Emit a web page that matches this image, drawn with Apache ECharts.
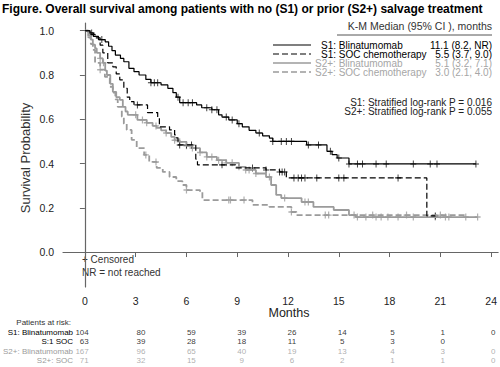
<!DOCTYPE html>
<html><head><meta charset="utf-8">
<script src="https://cdn.jsdelivr.net/npm/echarts@6/dist/echarts.min.js"></script>
<style>html,body{margin:0;padding:0;background:#fff}#c{width:500px;height:367px}</style>
</head><body><div id="c"></div>
<script>
// ---- tick labels ----
const xTicks = [0, 3, 6, 9, 12, 15, 18, 21, 24];
const yTicks = [0, 0.2, 0.4, 0.6, 0.8, 1.0];

// ---- KM curves: event times (months) and survival after each drop ----
const s1BlinT = [0,0.3,0.5,0.8,1.2,1.4,1.6,1.8,2.1,2.3,2.6,2.9,3.2,3.6,3.9,4.5,4.9,5.2,5.4,5.6,6.6,6.9,7.5,7.9,8.1,8.5,9.0,9.3,9.7,10.1,10.5,10.9,11.1,13.1,14.3,14.6,14.9,15.6];
const s1BlinS = [1,0.99,0.975,0.96,0.95,0.93,0.91,0.89,0.875,0.86,0.83,0.815,0.80,0.78,0.765,0.755,0.74,0.72,0.70,0.675,0.665,0.652,0.643,0.62,0.61,0.597,0.58,0.566,0.55,0.538,0.525,0.515,0.50,0.484,0.455,0.44,0.425,0.398];
const s1BlinEnd = 23.1;
const s1BlinCens = [0.4,1.0,3.9,4.1,4.3,5.5,5.8,6.1,6.35,7.2,7.5,7.8,8.35,8.7,9.1,10.3,11.1,11.6,11.9,12.2,13.2,13.8,14.5,15.0,15.6,16.1,16.4,17.2,17.8,19.4,20.4,20.8,23.1];

const s1SocT = [0,0.3,0.6,0.9,1.06,1.35,1.65,1.85,2.06,2.3,2.5,2.65,2.9,3.7,4.3,4.4,5.0,5.3,5.4,5.5,6.55,6.65,8.9,10.7,11.5,11.9,20.2];
const s1SocS = [1,0.984,0.968,0.935,0.90,0.855,0.837,0.805,0.778,0.74,0.70,0.68,0.665,0.63,0.606,0.566,0.552,0.529,0.516,0.484,0.42,0.394,0.38,0.371,0.362,0.335,0.163];
const s1SocEnd = 20.7;
const s1SocCens = [3.1,5.6,6.0,6.3,8.1,9.9,10.7,11.5,11.65,11.8,12.35,12.6,12.8,13.0,13.7,15.0,15.3,18.5,20.7];

const s2BlinT = [0,0.2,0.35,0.47,0.6,0.7,0.9,1.06,1.2,1.3,1.5,1.65,1.85,2.06,2.24,2.4,2.53,3.1,3.65,4.0,4.24,4.5,4.8,5.1,5.3,5.6,6.0,6.35,6.8,7.2,7.8,8.35,9.1,9.5,10.1,10.7,11.0,11.3,11.6,12.8,13.5,14.7,15.6,16.0];
const s2BlinS = [1,0.98,0.96,0.937,0.92,0.90,0.875,0.855,0.82,0.80,0.76,0.724,0.70,0.688,0.656,0.635,0.62,0.597,0.584,0.57,0.561,0.55,0.538,0.52,0.505,0.498,0.48,0.47,0.45,0.43,0.415,0.403,0.385,0.371,0.355,0.339,0.303,0.258,0.244,0.226,0.204,0.19,0.167,0.158];
const s2BlinEnd = 23.2;
const s2BlinCens = [0.3,0.9,1.1,3.0,3.4,3.65,4.2,4.8,5.3,5.6,6.0,6.35,6.8,7.2,7.5,7.9,8.35,8.7,9.1,9.5,9.7,10.1,10.9,11.8,13.0,13.2,15.9,16.1,16.6,17.2,17.5,17.9,18.5,19.4,20.7,21.3,21.5,22.5,23.2];

const s2SocT = [0,0.2,0.35,0.47,0.6,0.9,1.18,1.47,1.65,1.8,1.94,2.18,2.3,2.47,2.76,3.06,3.5,3.8,4.24,4.6,5.0,5.4,5.76,6.0,6.8,6.94,9.9,10.9,12.2,12.5];
const s2SocS = [1,0.97,0.94,0.914,0.855,0.824,0.792,0.747,0.72,0.69,0.656,0.611,0.58,0.552,0.507,0.47,0.439,0.407,0.38,0.362,0.339,0.32,0.303,0.28,0.271,0.235,0.213,0.204,0.181,0.167];
const s2SocEnd = 22.5;
const s2SocCens = [0.9,3.6,4.2,6.0,8.5,8.6,9.4,12.2,14.2,14.4,17.0,19.0,21.0];

// ---- legend texts ----
const legendNames = ['S1: Blinatumomab', 'S1: SOC chemotherapy', 'S2+: Blinatumomab', 'S2+: SOC chemotherapy'];
const legendMedians = ['11.1 (8.2, NR)', '5.5 (3.7, 9.0)', '5.1 (3.2, 7.1)', '3.0 (2.1, 4.0)'];
const pTexts = ['S1: Stratified log-rank P = 0.016', 'S2+: Stratified log-rank P = 0.055'];

// ---- patients at risk ----
const riskRows = ['S1: Blinatumomab', 'S:1 SOC', 'S2+: Blinatumomab', 'S2+: SOC'];
const riskS1Blin = [104, 80, 59, 39, 26, 14, 5, 1, 0];
const riskS1Soc  = [63, 39, 28, 18, 11, 5, 3, 0, null];
const riskS2Blin = [167, 96, 65, 40, 19, 13, 4, 3, 0];
const riskS2Soc  = [71, 32, 15, 9, 6, 2, 1, 1, 0];

// ---------------------------------------------------------------
const BLACK = '#000', GRAY = '#9b9b9b', GRAYTXT = '#a6a6a6', AXIS = '#666';
const FONT = '"Liberation Sans", Arial, sans-serif';

function steps(T, S, end) { const d = T.map((t, i) => [t, S[i]]); d.push([end, S[S.length - 1]]); return d; }
function survAt(T, S, t) { let s = S[0]; for (let i = 0; i < T.length; i++) if (T[i] <= t) s = S[i]; return s; }

const curves = [
  { T: s2SocT, S: s2SocS, end: s2SocEnd, cens: s2SocCens, color: GRAY, width: 1.8, dash: [6, 3] },
  { T: s2BlinT, S: s2BlinS, end: s2BlinEnd, cens: s2BlinCens, color: GRAY, width: 1.8, dash: 'solid' },
  { T: s1SocT, S: s1SocS, end: s1SocEnd, cens: s1SocCens, color: BLACK, width: 1.2, dash: [6, 3] },
  { T: s1BlinT, S: s1BlinS, end: s1BlinEnd, cens: s1BlinCens, color: BLACK, width: 1.2, dash: 'solid' }
];
const PLUS = 'path://M0,5L10,5M5,0L5,10';

const series = [];
curves.forEach(c => {
  series.push({ type: 'line', step: 'end', xAxisIndex: 0, yAxisIndex: 0, showSymbol: false, silent: true,
    data: steps(c.T, c.S, c.end), lineStyle: { color: c.color, width: c.width, type: c.dash } });
  series.push({ type: 'scatter', xAxisIndex: 0, yAxisIndex: 0, silent: true, symbol: PLUS, symbolSize: [6, 7],
    data: c.cens.map(t => [t, survAt(c.T, c.S, t)]),
    itemStyle: { color: 'none', borderColor: c.color, borderWidth: c.width > 1.5 ? 1.3 : 1 } });
});

const riskData = [riskS1Blin, riskS1Soc, riskS2Blin, riskS2Soc];
const riskColors = [BLACK, BLACK, GRAY, GRAY];
riskData.forEach((arr, r) => {
  const data = [];
  arr.forEach((v, i) => {
    if (v === null) return;
    const item = { value: [xTicks[i], riskRows[r], v] };
    if (i === 0) item.label = { align: 'right', offset: [-2, 0] };
    data.push(item);
  });
  series.push({ type: 'scatter', xAxisIndex: 1, yAxisIndex: 1, silent: true, symbolSize: 1,
    itemStyle: { color: 'rgba(0,0,0,0)' }, data,
    label: { show: true, position: 'inside', formatter: p => p.value[2], color: riskColors[r],
      fontSize: 8, fontFamily: FONT, align: 'center', verticalAlign: 'middle' } });
});

const graphic = [];
const T = (x, y, text, o) => graphic.push(Object.assign({ type: 'text', x, y, silent: true,
  style: Object.assign({ text, fontFamily: FONT, fontSize: 10, fill: '#222', verticalAlign: 'middle' }, o || {}) }));
T(2, 9, 'Figure. Overall survival among patients with no (S1) or prior (S2+) salvage treatment',
  { fontSize: 12, fontWeight: 'bold', fill: '#000' });
T(492, 26, 'K-M Median (95% CI ), months', { align: 'right', fill: '#333', fontSize: 10.5 });
graphic.push({ type: 'line', silent: true, shape: { x1: 337, y1: 35, x2: 492, y2: 35 }, style: { stroke: '#555', lineWidth: 1 } });
const legY = [45, 54, 63, 72];
const legX = [321, 321, 315, 315];
const legCol = [BLACK, BLACK, GRAY, GRAY];
const legTxt = ['#000', '#000', GRAYTXT, GRAYTXT];
const legDash = [null, [6, 3], null, [6, 3]];
legY.forEach((y, i) => {
  graphic.push({ type: 'line', silent: true, shape: { x1: 273, y1: y, x2: 311, y2: y },
    style: { stroke: legCol[i], lineWidth: i < 2 ? 1.2 : 1.6, lineDash: legDash[i] } });
  T(legX[i], y, legendNames[i], { align: 'left', fill: legTxt[i] });
  T(492, y, legendMedians[i], { align: 'right', fill: legTxt[i] });
});
T(492, 102, pTexts[0], { align: 'right', fill: '#222' });
T(492, 111, pTexts[1], { align: 'right', fill: '#222' });
T(82, 259, '+ Censored', { fill: '#333' });
T(82, 272, 'NR = not reached', { fill: '#333' });
T(289, 313, 'Months', { align: 'center', fontSize: 12.5, fill: '#222' });
T(71, 322, 'Patients at risk:', { align: 'right', fontSize: 8, fill: '#333' });
graphic.push({ type: 'text', x: 25, y: 158, rotation: Math.PI / 2, silent: true,
  style: { text: 'Survival Probability', fontFamily: FONT, fontSize: 13, fill: '#333', align: 'center', verticalAlign: 'middle' } });

const option = {
  animation: false,
  backgroundColor: '#fff',
  textStyle: { fontFamily: FONT },
  grid: [
    { left: 63, right: 0, top: 23, bottom: 80 },
    { left: 63, right: 0, top: 328, height: 37 }
  ],
  xAxis: [
    { type: 'value', gridIndex: 0, min: -1.294, max: 24.41, position: 'bottom',
      axisLine: { show: true, lineStyle: { color: AXIS, width: 1.2 } },
      axisTick: { show: true, customValues: xTicks, length: 5, lineStyle: { color: AXIS } },
      axisLabel: { customValues: xTicks, fontSize: 10.5, color: '#222', margin: 8, fontFamily: FONT },
      splitLine: { show: false } },
    { type: 'value', gridIndex: 1, min: -1.294, max: 24.41, show: false }
  ],
  yAxis: [
    { type: 'value', gridIndex: 0, min: -0.158, max: 1.035,
      axisLine: { show: true, lineStyle: { color: AXIS, width: 1.2 } },
      axisTick: { show: true, customValues: yTicks, length: 5, lineStyle: { color: AXIS } },
      axisLabel: { customValues: yTicks, formatter: v => v.toFixed(1), fontSize: 10.5, color: '#222', margin: 9, fontFamily: FONT },
      splitLine: { show: false } },
    { type: 'category', gridIndex: 1, data: riskRows, inverse: true,
      axisLine: { show: false }, axisTick: { show: false }, splitLine: { show: false },
      axisLabel: { interval: 0, margin: -4, fontSize: 8, fontFamily: FONT, color: (v, i) => riskColors[i] } }
  ],
  series,
  graphic
};
const chart = echarts.init(document.getElementById('c'), null, { renderer: 'svg', width: 500, height: 367 });
chart.setOption(option);
</script>
</body></html>
